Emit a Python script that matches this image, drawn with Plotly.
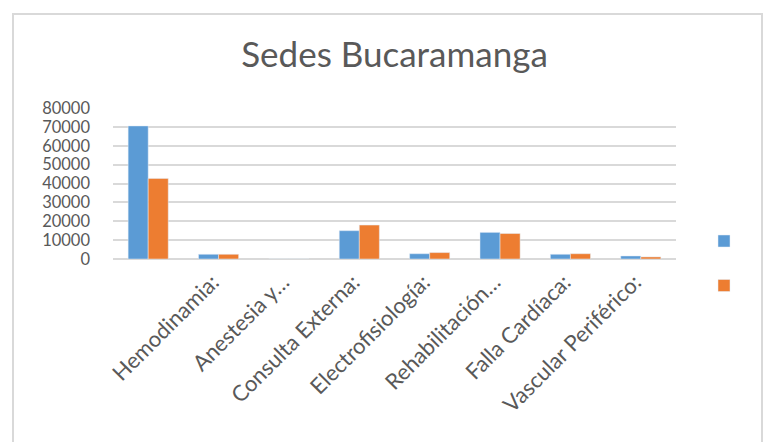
import plotly.graph_objects as go

categories = [" ", "Hemodinamia:", "Anestesia y…", "Consulta Externa:", "Electrofisiología:",
              "Rehabilitación…", "Falla Cardíaca:", "Vascular Periférico:"]
serie_1 = [70500, 2500, 0, 15000, 2800, 14100, 2500, 1600]
serie_2 = [42700, 2500, 0, 18000, 3400, 13500, 2800, 1100]
y_ticks = [0, 10000, 20000, 30000, 40000, 50000, 60000, 70000, 80000]

FONT = "Lato"
GRAY = "#595959"
GRID = "#D9D9D9"

fig = go.Figure()
fig.add_trace(go.Bar(x=categories, y=serie_1, name="", marker_color="#5B9BD5",
                     legend="legend", showlegend=True))
fig.add_trace(go.Bar(x=categories, y=serie_2, name="", marker_color="#ED7D31",
                     legend="legend2", showlegend=True))

L, R, T, B = 113, 94, 108, 183
W, H = 770, 442
pw = W - L - R
ph = H - T - B

def px(x):
    return (x - L) / pw

def py(y):
    return (H - B - y) / ph

fig.update_layout(
    width=W, height=H,
    margin=dict(l=L, r=R, t=T, b=B, autoexpand=False),
    paper_bgcolor="white", plot_bgcolor="white",
    barmode="group", bargap=0.43, bargroupgap=0,
    font=dict(family=FONT, color=GRAY),
    title=dict(text="Sedes Bucaramanga", x=0.5, xref="paper", xanchor="center",
               y=1 - 55 / H, yanchor="middle",
               font=dict(family=FONT, size=35, color=GRAY)),
    xaxis=dict(type="category", tickangle=-45, showgrid=False, showline=False,
               ticks="", automargin=False, ticklabelstandoff=5, ticklabelshift=-6,
               tickfont=dict(family=FONT, size=22, color=GRAY)),
    yaxis=dict(range=[0, 80000], tickvals=y_ticks, ticktext=[str(v) for v in y_ticks],
               showgrid=True, gridcolor=GRID, gridwidth=1.5, zeroline=True,
               zerolinecolor=GRID, zerolinewidth=1.5, showline=False, ticks="",
               automargin=False,
               tickfont=dict(family=FONT, size=16.5, color=GRAY), ticklabelstandoff=22),
    legend=dict(x=px(704), y=py(226.5), xanchor="left", yanchor="top",
                bgcolor="rgba(0,0,0,0)", font=dict(size=12)),
    legend2=dict(x=px(704), y=py(271), xanchor="left", yanchor="top",
                 bgcolor="rgba(0,0,0,0)", font=dict(size=12)),
    shapes=[dict(type="rect", xref="paper", yref="paper",
                 x0=px(13), x1=px(762), y0=py(460), y1=py(14),
                 line=dict(color=GRID, width=2), fillcolor="rgba(0,0,0,0)", layer="below")],
)

fig.write_html("out.html", config={"displayModeBar": False},
               post_script="document.body.style.margin='0';document.body.style.padding='0';")
